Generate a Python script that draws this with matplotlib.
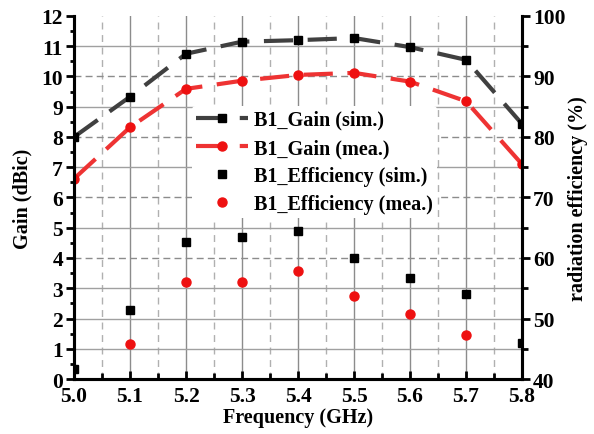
import numpy as np
import matplotlib.pyplot as plt
from matplotlib.ticker import MultipleLocator

plt.rcParams["font.family"] = ["Liberation Serif", "DejaVu Serif"]
plt.rcParams["font.weight"] = "bold"

freq = [5.0, 5.1, 5.2, 5.3, 5.4, 5.5, 5.6, 5.7, 5.8]
gain_sim = [8.0, 9.33, 10.75, 11.15, 11.2, 11.27, 10.97, 10.55, 8.43]
gain_mea = [6.62, 8.32, 9.59, 9.86, 10.05, 10.12, 9.83, 9.18, 7.1]
eff_sim = [41.6, 51.4, 62.7, 63.4, 64.4, 60.0, 56.7, 54.0, 46.0]
eff_mea = [np.nan, 45.8, 56.1, 56.1, 57.9, 53.8, 50.8, 47.2, np.nan]

fig = plt.figure(figsize=(5.94, 4.35), dpi=100)
ax = fig.add_axes([0.1246, 0.1264, 0.7542, 0.8346])
ax2 = ax.twinx()

# grid
for x in np.arange(5.1, 5.75, 0.1):
    ax.axvline(x, color="#8c8c8c", lw=1.0, zorder=0)
for x in np.arange(5.05, 5.8, 0.1):
    ax.axvline(x, color="#b0b0b0", lw=1.0, ls=(0, (5, 4)), zorder=0)
for y in range(1, 12):
    if y in (4, 6, 8, 10):
        ax.axhline(y, color="#8c8c8c", lw=1.0, ls=(0, (5, 3)), zorder=0)
    else:
        ax.axhline(y, color="#a0a0a0", lw=1.0, zorder=0)

l1, = ax.plot(freq, gain_sim, color="#404040", lw=3, ls=(0, (7, 3.5)),
              marker="s", ms=6, mfc="black", mec="black", label="B1_Gain (sim.)")
l2, = ax.plot(freq, gain_mea, color="#ee3333", lw=3, ls=(0, (7, 3.5)),
              marker="o", ms=6.5, mfc="#ee1111", mec="#ee1111", label="B1_Gain (mea.)")
s1, = ax2.plot(freq, eff_sim, ls="none", marker="s", ms=6, color="black",
               label="B1_Efficiency (sim.)")
s2, = ax2.plot(freq, eff_mea, ls="none", marker="o", ms=6.5, color="#ee1111",
               label="B1_Efficiency (mea.)")

ax.set_xlim(5.0, 5.8)
ax.set_ylim(0, 12)
ax2.set_ylim(40, 100)
ax.xaxis.set_major_locator(MultipleLocator(0.1))
ax.xaxis.set_minor_locator(MultipleLocator(0.05))
ax.yaxis.set_major_locator(MultipleLocator(1))
ax.yaxis.set_minor_locator(MultipleLocator(0.5))
ax2.yaxis.set_major_locator(MultipleLocator(10))
ax2.yaxis.set_minor_locator(MultipleLocator(5))
ax.xaxis.set_major_formatter(plt.FormatStrFormatter("%.1f"))

ax.tick_params(axis="x", which="both", direction="in", labelsize=15.5, width=2, top=False, pad=5)
ax.tick_params(axis="x", which="major", length=6)
ax.tick_params(axis="x", which="minor", length=4)
ax.tick_params(axis="y", which="both", direction="out", labelsize=15.5, width=2, pad=2)
ax.tick_params(axis="y", which="major", length=6)
ax.tick_params(axis="y", which="minor", length=3)
ax2.tick_params(axis="y", which="both", direction="out", labelsize=15.5, width=2, pad=2)
ax2.tick_params(axis="y", which="major", length=6)
ax2.tick_params(axis="y", which="minor", length=4)

for a in (ax, ax2):
    for sp in a.spines.values():
        sp.set_linewidth(2.2)
ax.spines["top"].set_visible(False)
ax2.spines["top"].set_visible(False)

ax.set_xlabel("Frequency (GHz)", fontsize=14.5, fontweight="bold", labelpad=1)
ax.set_ylabel("Gain (dBic)", fontsize=14.5, fontweight="bold", labelpad=6)
ax2.set_ylabel("radiation efficiency (%)", fontsize=14.5, fontweight="bold", labelpad=2)

leg = ax2.legend(handles=[l1, l2, s1, s2], loc="upper left",
                 bbox_to_anchor=(0.24, 0.78), frameon=True, fontsize=14.5,
                 handlelength=2.6, handletextpad=0.3, labelspacing=0.4,
                 borderpad=0.2)
leg.get_frame().set_edgecolor("none")
leg.get_frame().set_facecolor("white")
leg.get_frame().set_alpha(1)

fig.savefig("out.png", dpi=100)
